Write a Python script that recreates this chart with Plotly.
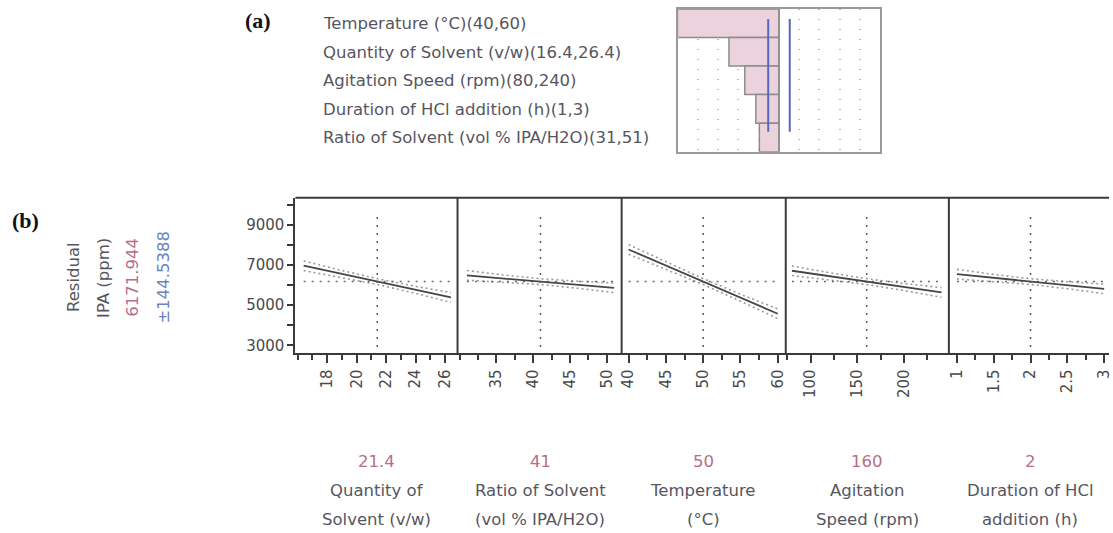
import plotly.graph_objects as go

W, H = 1113, 533

# ---- data -------------------------------------------------------------
factor_line1 = ["Quantity of", "Ratio of Solvent", "Temperature", "Agitation", "Duration of HCl"]
factor_line2 = ["Solvent (v/w)", "(vol % IPA/H2O)", "(\u00b0C)", "Speed (rpm)", "addition (h)"]
current_values = [21.4, 41, 50, 160, 2]
current_labels = ["21.4", "41", "50", "160", "2"]

quantity_x = [16.4, 18.9, 21.4, 23.9, 26.4]
quantity_pred = [6960, 6565, 6172, 5775, 5380]
ratio_x = [31, 36, 41, 46, 51]
ratio_pred = [6480, 6325, 6172, 6015, 5860]
temperature_x = [40, 45, 50, 55, 60]
temperature_pred = [7770, 6970, 6172, 5370, 4570]
agitation_x = [80, 120, 160, 200, 240]
agitation_pred = [6710, 6440, 6172, 5900, 5630]
duration_x = [1, 1.5, 2, 2.5, 3]
duration_pred = [6540, 6355, 6172, 5990, 5810]
# half-width of the confidence band at the same five settings
band_halfwidth = [240, 174, 145, 174, 240]

predicted_mean = 6171.944
mean_label = "6171.944"
ci_label = "\u00b1144.5388"

profile_x = [quantity_x, ratio_x, temperature_x, agitation_x, duration_x]
profile_pred = [quantity_pred, ratio_pred, temperature_pred, agitation_pred, duration_pred]

# axis layout for each profiler cell
x_ranges = [[15.84, 26.85], [29.73, 52.03], [39.07, 61.07], [73.4, 247.9], [0.89, 3.066]]
tick_values = [[18, 20, 22, 24, 26], [35, 40, 45, 50], [40, 45, 50, 55, 60], [100, 150, 200], [1, 1.5, 2, 2.5, 3]]
tick_labels = [["18", "20", "22", "24", "26"], ["35", "40", "45", "50"], ["40", "45", "50", "55", "60"],
               ["100", "150", "200"], ["1", "1.5", "2", "2.5", "3"]]
minor_steps = [1, 2.5, 2.5, 25, 0.25]
y_ticks = [3000, 5000, 7000, 9000]

# Pareto of scaled effects
pareto_terms = ["Temperature (\u00b0C)(40,60)", "Quantity of Solvent (v/w)(16.4,26.4)",
                "Agitation Speed (rpm)(80,240)", "Duration of HCl addition (h)(1,3)",
                "Ratio of Solvent (vol % IPA/H2O)(31,51)"]
pareto_effects = [-1600, -790, -540, -365, -310]
pareto_limit = 170

# ---- styling ----------------------------------------------------------
FONT = "DejaVu Sans"
GRAY_TXT = "#56565e"
PINK = "#b86e86"
BLUE = "#6b7fc2"
FRAME = "#3a3a3a"
TXT_SIZE = 16.5


def px(x):
    return x / W


def py(y):
    return 1 - y / H


panel_edges = [295, 458, 623, 788, 952, 1113]
plot_top, plot_bottom = 198, 354

fig = go.Figure()

layout = dict(
    width=W, height=H, margin=dict(l=0, r=0, t=0, b=0),
    paper_bgcolor="white", plot_bgcolor="white", showlegend=False,
    font=dict(family=FONT, color=GRAY_TXT),
)

for i in range(5):
    n = i + 1
    xa = "x" if n == 1 else f"x{n}"
    ya = "y" if n == 1 else f"y{n}"
    xs = profile_x[i]
    pr = profile_pred[i]
    upper = [p + h for p, h in zip(pr, band_halfwidth)]
    lower = [p - h for p, h in zip(pr, band_halfwidth)]
    # confidence band
    for band in (upper, lower):
        fig.add_trace(go.Scatter(x=xs, y=band, mode="lines", xaxis=xa, yaxis=ya,
                                 line=dict(color="#9a9a9a", width=1.6, dash="2px,3px"),
                                 hoverinfo="skip"))
    # reference lines at the current setting
    fig.add_trace(go.Scatter(x=[xs[0], xs[-1]], y=[predicted_mean, predicted_mean], mode="lines",
                             xaxis=xa, yaxis=ya,
                             line=dict(color="#6a6a6a", width=1.5, dash="2px,6px"), hoverinfo="skip"))
    # prediction trace
    fig.add_trace(go.Scatter(x=xs, y=pr, mode="lines", xaxis=xa, yaxis=ya,
                             line=dict(color="#464646", width=1.8)))
    fig.add_shape(type="line", xref=xa, yref=f"{ya} domain", x0=current_values[i], x1=current_values[i],
                  y0=0.04, y1=0.91, line=dict(color="#5a5a5a", width=1.5, dash="2px,6px"))

    dom = [px(panel_edges[i]), px(panel_edges[i + 1])]
    layout["xaxis" if n == 1 else f"xaxis{n}"] = dict(
        domain=dom, range=x_ranges[i], anchor=ya,
        tickmode="array", tickvals=tick_values[i], ticktext=tick_labels[i],
        ticks="outside", ticklen=8, tickwidth=2, tickcolor=FRAME, tickangle=-90,
        ticklabeloverflow="allow",
        tickfont=dict(family=FONT, size=15, color="#4a4a4a"),
        minor=dict(ticks="outside", dtick=minor_steps[i], tick0=0, ticklen=5, tickwidth=1.5, tickcolor=FRAME),
        showline=True, linecolor=FRAME, linewidth=2, showgrid=False, zeroline=False, fixedrange=True,
    )
    yax = dict(
        domain=[py(plot_bottom), py(plot_top)], range=[2600, 10350], anchor=xa,
        showgrid=False, zeroline=False, fixedrange=True,
    )
    if n == 1:
        yax.update(tickmode="array", tickvals=y_ticks, ticktext=[str(v) for v in y_ticks],
                   ticks="outside", ticklen=6, tickwidth=2, tickcolor=FRAME,
                   tickfont=dict(family=FONT, size=15, color="#4a4a4a"),
                   minor=dict(ticks="outside", dtick=1000, tick0=0, ticklen=6, tickwidth=1.5, tickcolor=FRAME),
                   showline=True, linecolor=FRAME, linewidth=2)
    else:
        yax.update(showticklabels=False, showline=False, ticks="")
    layout["yaxis" if n == 1 else f"yaxis{n}"] = yax

# frame: top edge and dividers between cells
fig.add_shape(type="line", xref="paper", yref="paper", x0=px(295), x1=1, y0=py(plot_top), y1=py(plot_top),
              line=dict(color=FRAME, width=2))
for e in panel_edges[1:5]:
    fig.add_shape(type="line", xref="paper", yref="paper", x0=px(e), x1=px(e),
                  y0=py(plot_bottom), y1=py(plot_top), line=dict(color=FRAME, width=2))

# ---- Pareto of effects ------------------------------------------------
rows = list(range(len(pareto_terms)))
fig.add_trace(go.Bar(x=pareto_effects, y=rows, orientation="h", base=0, width=1,
                     marker=dict(color="#ecd2dd", line=dict(color="#8c8c8c", width=1.5)),
                     xaxis="x6", yaxis="y6"))
fig.add_trace(go.Scatter(x=[0, 0], y=[-0.5, 4.5], mode="lines", xaxis="x6", yaxis="y6",
                         line=dict(color="#8c8c8c", width=1.5)))
for s in (-1, 1):
    fig.add_trace(go.Scatter(x=[s * pareto_limit, s * pareto_limit], y=[-0.15, 3.8], mode="lines",
                             xaxis="x6", yaxis="y6", line=dict(color="#5468c0", width=2)))

layout["xaxis6"] = dict(domain=[px(680), px(883)], range=[-1590, 1600], anchor="y6",
                        showticklabels=False, ticks="", showgrid=True, dtick=320, tick0=0,
                        gridcolor="#b8b8b8", griddash="1px,9px", gridwidth=1.5,
                        zeroline=False, showline=True, mirror=True, linecolor="#9a9a9a", linewidth=1.5,
                        fixedrange=True)
layout["yaxis6"] = dict(domain=[py(152), py(9)], range=[4.5, -0.5], anchor="x6",
                        showticklabels=False, ticks="", showgrid=False, zeroline=False,
                        showline=True, mirror=True, linecolor="#9a9a9a", linewidth=1.5, fixedrange=True)

fig.update_layout(**layout)

ann = []
for i, term in enumerate(pareto_terms):
    ann.append(dict(x=px(321), y=py(23.5 + i * 28.6), xref="paper", yref="paper", text=term,
                    showarrow=False, xanchor="left", yanchor="middle",
                    font=dict(family=FONT, size=TXT_SIZE, color=GRAY_TXT)))

# panel tags
ann.append(dict(x=px(242), y=py(21), xref="paper", yref="paper", text="<b>(a)</b>", showarrow=False,
                xanchor="left", yanchor="middle", font=dict(family="Liberation Serif", size=22, color="#111")))
ann.append(dict(x=px(8), y=py(221), xref="paper", yref="paper", text="<b>(b)</b>", showarrow=False,
                xanchor="left", yanchor="middle", font=dict(family="Liberation Serif", size=22, color="#111")))

# response label column
for xc, txt, col in [(72, "Residual", GRAY_TXT), (102, "IPA (ppm)", GRAY_TXT),
                     (131, mean_label, PINK), (162, ci_label, BLUE)]:
    ann.append(dict(x=px(xc), y=py(278), xref="paper", yref="paper", text=txt, showarrow=False,
                    textangle=-90, xanchor="center", yanchor="middle",
                    font=dict(family=FONT, size=TXT_SIZE, color=col)))

# current settings and factor names under each cell
centers = [377, 541, 705, 870, 1034]
for c, val, l1, l2 in zip(centers, current_labels, factor_line1, factor_line2):
    for yy, txt, col in [(462, val, PINK), (491, l1, GRAY_TXT), (520, l2, GRAY_TXT)]:
        ann.append(dict(x=px(c), y=py(yy), xref="paper", yref="paper", text=txt, showarrow=False,
                        xanchor="center", yanchor="middle",
                        font=dict(family=FONT, size=TXT_SIZE, color=col)))

fig.update_layout(annotations=ann)
fig.write_html("out.html")
